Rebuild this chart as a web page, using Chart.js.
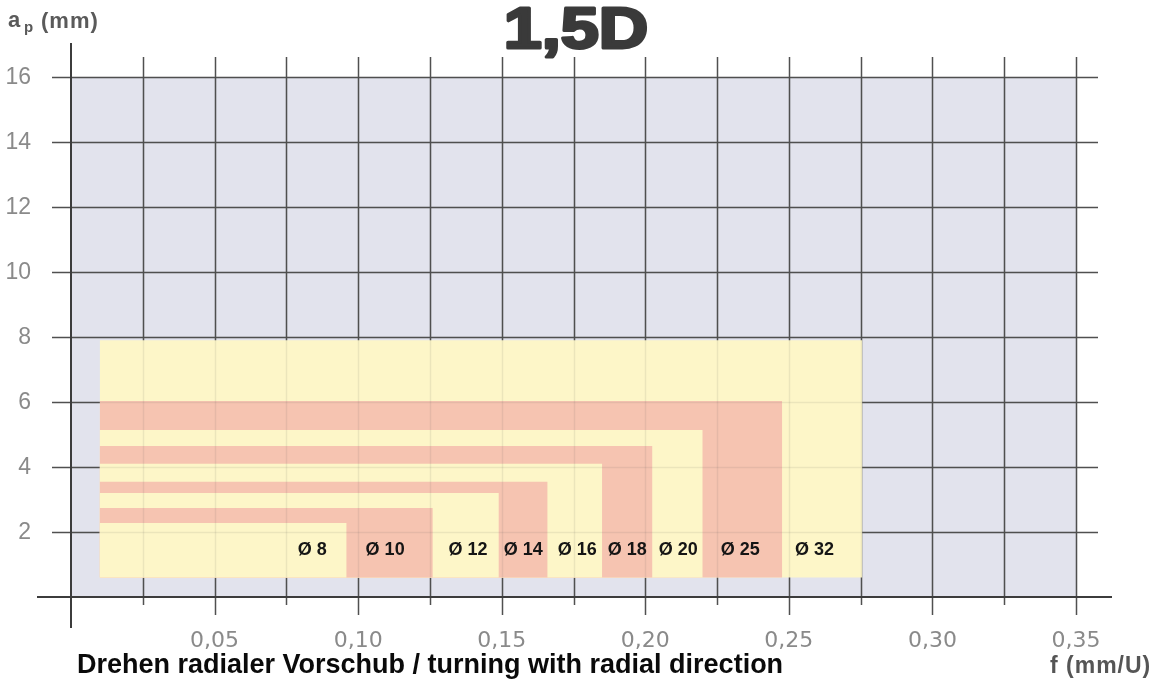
<!DOCTYPE html>
<html>
<head>
<meta charset="utf-8">
<script src="https://cdn.jsdelivr.net/npm/chart.js@4.4.1/dist/chart.umd.min.js"></script>
<style>
  html, body { margin: 0; padding: 0; background: #fff; }
  #wrap { width: 1159px; height: 682px; position: relative; }
</style>
</head>
<body>
<div id="wrap"><canvas id="chart"></canvas></div>
<script>
// ---------- data ----------
const diameters = ["Ø 8", "Ø 10", "Ø 12", "Ø 14", "Ø 16", "Ø 18", "Ø 20", "Ø 25", "Ø 32"];
const feedMax  = [0.096, 0.126, 0.149, 0.166, 0.185, 0.2025, 0.22, 0.2477, 0.2756]; // f (mm/U)
const depthMax = [2.28, 2.74, 3.2, 3.55, 4.1, 4.65, 5.14, 6.03, 7.9];              // ap (mm)
const feedMin = 0.01;
const depthMin = 0.6;
const labelFeed = [0.084, 0.1094, 0.1383, 0.1575, 0.1763, 0.1937, 0.2115, 0.2331, 0.2589];
const labelDepth = 1.45;
const xTicks = [0.05, 0.10, 0.15, 0.20, 0.25, 0.30, 0.35];
const xTickLabels = ["0,05", "0,10", "0,15", "0,20", "0,25", "0,30", "0,35"];
const yTicks = [2, 4, 6, 8, 10, 12, 14, 16];

const YELLOW = "#fdf6c8";
const SALMON = "#f6c4b1";

// ---------- grid / paper ----------
const drawGrid = (chart, color, faint) => {
  const { ctx, chartArea: a, scales: { x, y } } = chart;
  ctx.save();
  ctx.strokeStyle = color;
  ctx.lineWidth = 1.5;
  const xEnd = x.getPixelForValue(0.35);
  // vertical lines every 0.025
  for (let i = 1; i <= 14; i++) {
    const v = i * 0.025;
    const px = Math.round(x.getPixelForValue(v)) + 0.5;
    const major = i % 2 === 0;
    ctx.beginPath();
    ctx.moveTo(px, faint ? a.top : a.top - 20);
    ctx.lineTo(px, faint ? a.bottom : a.bottom + (major ? 18 : 8));
    ctx.stroke();
  }
  // horizontal lines
  yTicks.forEach(v => {
    const py = Math.round(y.getPixelForValue(v)) + 0.5;
    ctx.beginPath();
    ctx.moveTo(faint ? a.left : a.left - 19, py);
    ctx.lineTo(faint ? xEnd : xEnd + 22, py);
    ctx.stroke();
  });
  if (!faint) {
    // axes
    ctx.lineWidth = 2;
    ctx.strokeStyle = "#3c3c3c";
    const x0 = Math.round(x.getPixelForValue(0));
    const y0 = Math.round(y.getPixelForValue(0));
    ctx.beginPath();
    ctx.moveTo(x0, a.top - 34);
    ctx.lineTo(x0, a.bottom + 31);
    ctx.moveTo(a.left - 34, y0);
    ctx.lineTo(a.right + 36, y0);
    ctx.stroke();
  }
  ctx.restore();
};

const paperPlugin = {
  id: "paper",
  beforeDatasetsDraw(chart) {
    const { ctx, chartArea: a } = chart;
    ctx.save();
    ctx.fillStyle = "#e2e3ed";
    ctx.fillRect(a.left, a.top, a.right - a.left, a.bottom - a.top);
    ctx.restore();
    drawGrid(chart, "#505050", false);
  },
  afterDatasetsDraw(chart) {
    const { ctx, scales: { x, y } } = chart;
    drawGrid(chart, "rgba(80,80,80,0.10)", true);
    // diameter labels
    ctx.save();
    ctx.font = "bold 18px 'Liberation Sans', Arial, sans-serif";
    ctx.fillStyle = "#151515";
    ctx.textAlign = "center";
    ctx.textBaseline = "middle";
    diameters.forEach((d, i) => {
      ctx.fillText(d, x.getPixelForValue(labelFeed[i]), y.getPixelForValue(labelDepth));
    });
    ctx.restore();
  },
  afterDraw(chart) {
    const { ctx, scales: { x, y } } = chart;
    ctx.save();
    // title
    ctx.save();
    ctx.translate(576, 48);
    ctx.scale(1.2, 1);
    ctx.font = "bold 57px 'Liberation Sans', Arial, sans-serif";
    ctx.textAlign = "center";
    ctx.textBaseline = "alphabetic";
    ctx.fillStyle = "#3a3a3a";
    ctx.strokeStyle = "#3a3a3a";
    ctx.lineWidth = 3;
    ctx.lineJoin = "round";
    ctx.fillText("1,5D", 0, 0);
    ctx.strokeText("1,5D", 0, 0);
    ctx.restore();

    // y axis caption a_p (mm)
    ctx.fillStyle = "#5a5a5a";
    ctx.textAlign = "left";
    ctx.textBaseline = "alphabetic";
    ctx.font = "bold 22px 'Liberation Sans', Arial, sans-serif";
    ctx.fillText("a", 8, 27);
    ctx.font = "bold 15px 'Liberation Sans', Arial, sans-serif";
    ctx.fillText("p", 24, 32);
    ctx.font = "bold 22px 'Liberation Sans', Arial, sans-serif";
    ctx.letterSpacing = "1px";
    ctx.fillText("(mm)", 41, 28);
    ctx.letterSpacing = "0px";

    // y tick labels
    ctx.fillStyle = "#8a8a8a";
    ctx.font = "23px 'Liberation Sans', Arial, sans-serif";
    ctx.textAlign = "right";
    ctx.textBaseline = "middle";
    yTicks.forEach(v => ctx.fillText(String(v), 31, y.getPixelForValue(v) + 1));

    // x tick labels
    ctx.font = "22px 'DejaVu Sans', sans-serif";
    ctx.textAlign = "center";
    ctx.textBaseline = "alphabetic";
    xTicks.forEach((v, i) => ctx.fillText(xTickLabels[i], x.getPixelForValue(v), 647));

    // x caption
    ctx.fillStyle = "#555";
    ctx.font = "bold 23px 'Liberation Sans', Arial, sans-serif";
    ctx.textAlign = "left";
    ctx.letterSpacing = "1px";
    ctx.fillText("f (mm/U)", 1050, 673);
    ctx.letterSpacing = "0px";

    // bottom title
    ctx.fillStyle = "#0a0a0a";
    ctx.font = "bold 27px 'Liberation Sans', Arial, sans-serif";
    ctx.fillText("Drehen radialer Vorschub / turning with radial direction", 77, 673);
    ctx.restore();
  }
};

// ---------- datasets: one filled band per diameter ----------
const datasets = diameters.map((d, i) => ({
  label: d,
  data: [{ x: feedMin, y: depthMax[i] }, { x: feedMax[i], y: depthMax[i] }],
  showLine: true,
  fill: { value: depthMin },
  backgroundColor: i % 2 === 0 ? YELLOW : SALMON,
  borderColor: "transparent",
  borderWidth: 0,
  pointRadius: 0,
  tension: 0
}));

new Chart(document.getElementById("chart").getContext("2d"), {
  type: "scatter",
  data: { datasets },
  options: {
    responsive: true,
    maintainAspectRatio: false,
    animation: false,
    layout: { padding: { left: 71, top: 77, right: 83, bottom: 85 } },
    plugins: { legend: { display: false }, tooltip: { enabled: false } },
    scales: {
      x: { type: "linear", min: 0, max: 0.35, display: false },
      y: { type: "linear", min: 0, max: 16, display: false }
    }
  },
  plugins: [paperPlugin]
});
</script>
</body>
</html>
